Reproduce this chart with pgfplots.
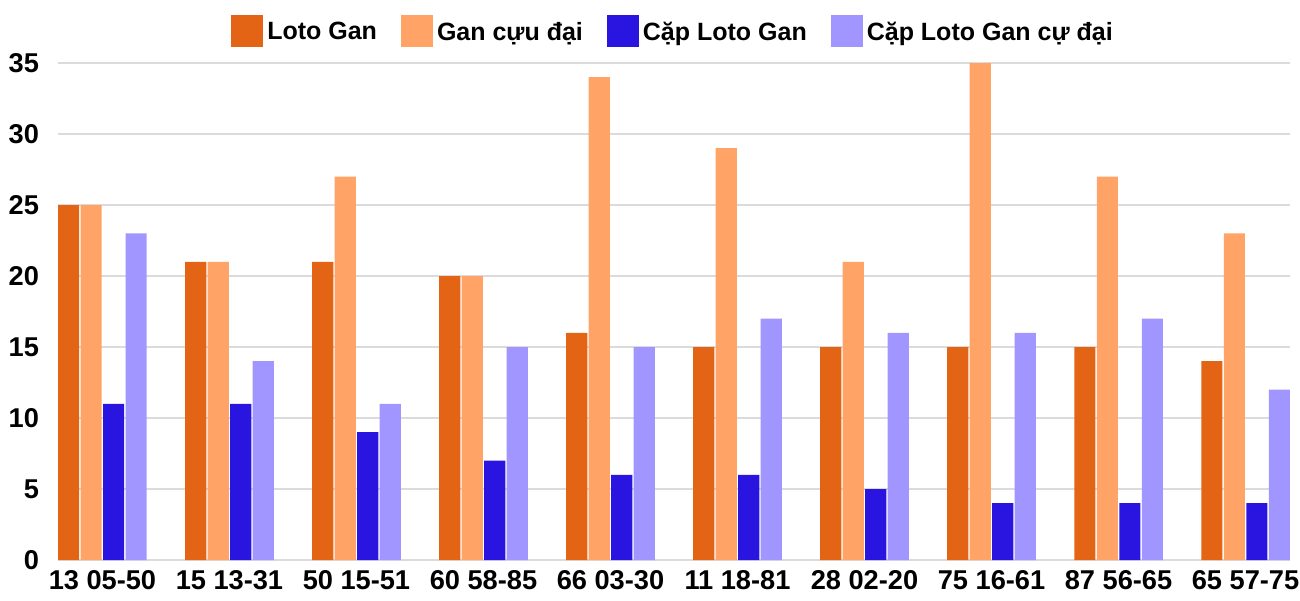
\documentclass[border=0pt]{standalone}
\usepackage{fontspec}
\setmainfont{Liberation Sans}
\usepackage{pgfplots}
\pgfplotsset{compat=1.18}
\usetikzlibrary{calc}

\definecolor{lotogan}{HTML}{E36414}
\definecolor{ganmax}{HTML}{FFA366}
\definecolor{capgan}{HTML}{2A14E0}
\definecolor{capmax}{HTML}{A196FF}

\begin{document}
\begin{tikzpicture}
\begin{axis}[
  name=ax,
  scale only axis,
  width=616pt, height=248.5pt,
  xmin=-0.35, xmax=9.35,
  ymin=0, ymax=35,
  ytick={0,5,...,35},
  xtick={0,...,9},
  xticklabels={13 05-50,15 13-31,50 15-51,60 58-85,66 03-30,11 18-81,28 02-20,75 16-61,87 56-65,65 57-75},
  axis line style={draw=none},
  major tick length=0pt,
  ymajorgrids,
  grid style={gray!28, line width=0.6pt},
  /pgf/number format/assume math mode=true,
  tick label style={font=\bfseries\fontsize{13.6}{15}\selectfont},
  yticklabel style={xshift=-6pt},
  xticklabel style={yshift=-1.5pt},
  ybar, bar width=0.166,
  area legend,
  legend image code/.code={\fill[#1] (0pt,-7pt) rectangle (16pt,9pt);},
  legend style={at={(0.5,1)}, anchor=center, yshift=16pt, draw=none,
    font=\bfseries\fontsize{12.5}{14}\selectfont,
    legend columns=4,
    /tikz/every even column/.append style={column sep=10pt}},
]
\addplot[fill=lotogan, draw=none, bar shift=-0.2657] coordinates {
  (0,25) (1,21) (2,21) (3,20) (4,16) (5,15) (6,15) (7,15) (8,15) (9,14)};
\addplot[fill=ganmax, draw=none, bar shift=-0.0886] coordinates {
  (0,25) (1,21) (2,27) (3,20) (4,34) (5,29) (6,21) (7,35) (8,27) (9,23)};
\addplot[fill=capgan, draw=none, bar shift=0.0886] coordinates {
  (0,11) (1,11) (2,9) (3,7) (4,6) (5,6) (6,5) (7,4) (8,4) (9,4)};
\addplot[fill=capmax, draw=none, bar shift=0.2657] coordinates {
  (0,23) (1,14) (2,11) (3,15) (4,15) (5,17) (6,16) (7,16) (8,17) (9,12)};
\legend{Loto Gan, Gan cựu đại, Cặp Loto Gan, Cặp Loto Gan cự đại}
\end{axis}
\pgfresetboundingbox
\path ($(ax.south west)+(-29pt,-20pt)$) rectangle ($(ax.north east)+(5pt,31.5pt)$);
\end{tikzpicture}
\end{document}
